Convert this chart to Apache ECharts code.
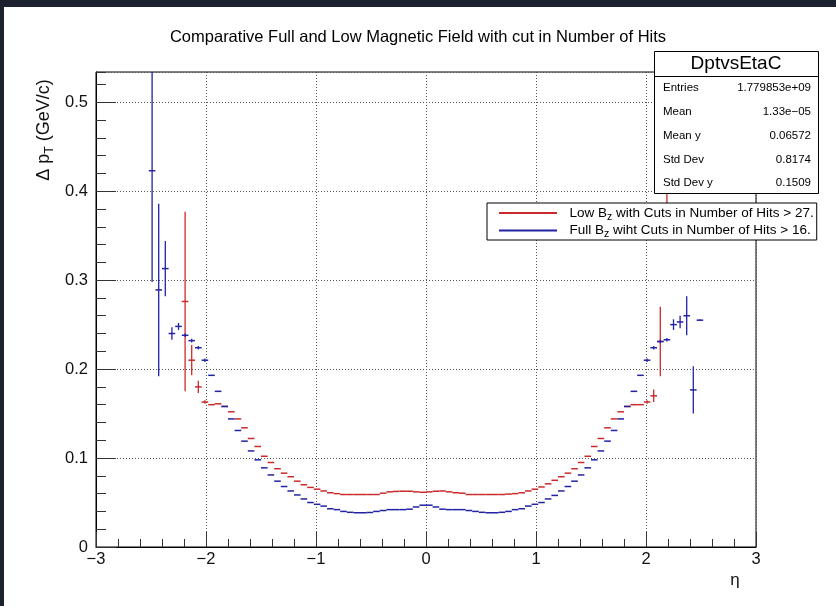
<!DOCTYPE html>
<html><head><meta charset="utf-8">
<script src="https://cdn.jsdelivr.net/npm/echarts@6/dist/echarts.min.js"></script>
<style>
html,body{margin:0;padding:0;background:#1c2130;overflow:hidden;}
#bg{position:absolute;left:4px;top:7px;width:832px;height:599px;background:#fff;}
#chart{position:absolute;left:0;top:0;width:836px;height:606px;}
</style></head><body>
<div id="bg"></div><div id="chart"></div>
<script>
const FONT = '"Liberation Sans", Arial, Helvetica, sans-serif';
const titleText = 'Comparative Full and Low Magnetic Field with cut in Number of Hits';
const binWidth = 0.06;

// Full B_z (blue)
const fullEta = [-2.49,-2.43,-2.37,-2.31,-2.25,-2.19,-2.13,-2.07,-2.01,-1.95,-1.89,-1.83,-1.77,-1.71,-1.65,-1.59,-1.53,-1.47,-1.41,-1.35,-1.29,-1.23,-1.17,-1.11,-1.05,-0.99,-0.93,-0.87,-0.81,-0.75,-0.69,-0.63,-0.57,-0.51,-0.45,-0.39,-0.33,-0.27,-0.21,-0.15,-0.09,-0.03,
 0.03,0.09,0.15,0.21,0.27,0.33,0.39,0.45,0.51,0.57,0.63,0.69,0.75,0.81,0.87,0.93,0.99,1.05,1.11,1.17,1.23,1.29,1.35,1.41,1.47,1.53,1.59,1.65,1.71,1.77,1.83,1.89,1.95,2.01,2.07,2.13,2.19,2.25,2.31,2.37,2.43,2.49];
const fullVal = [0.423,0.289,0.313,0.240,0.248,0.238,0.232,0.224,0.210,0.193,0.175,0.158,0.144,0.131,0.119,0.108,0.098,0.089,0.081,0.074,0.068,0.063,0.0585,0.054,0.050,0.048,0.046,0.043,0.042,0.040,0.039,0.0385,0.0385,0.0388,0.040,0.041,0.042,0.042,0.042,0.0425,0.045,0.047,
 0.047,0.045,0.0425,0.042,0.042,0.042,0.041,0.040,0.039,0.0385,0.0385,0.039,0.040,0.042,0.043,0.046,0.048,0.050,0.054,0.058,0.063,0.068,0.074,0.081,0.089,0.098,0.108,0.119,0.131,0.144,0.158,0.175,0.193,0.210,0.224,0.231,0.233,0.250,0.253,0.260,0.1766,0.255];
const fullErr = [0.125,0.097,0.031,0.007,0.004,0.002,0.002,0.002,0.002,0,0,0,0,0,0,0,0,0,0,0,0,0,0,0,0,0,0,0,0,0,0,0,0,0,0,0,0,0,0,0,0,0,
 0,0,0,0,0,0,0,0,0,0,0,0,0,0,0,0,0,0,0,0,0,0,0,0,0,0,0,0,0,0,0,0,0,0.002,0.002,0.002,0.002,0.006,0.007,0.022,0.0265,0.001];

// Low B_z (red)
const lowEta = [-2.19,-2.13,-2.07,-2.01,-1.95,-1.89,-1.83,-1.77,-1.71,-1.65,-1.59,-1.53,-1.47,-1.41,-1.35,-1.29,-1.23,-1.17,-1.11,-1.05,-0.99,-0.93,-0.87,-0.81,-0.75,-0.69,-0.63,-0.57,-0.51,-0.45,-0.39,-0.33,-0.27,-0.21,-0.15,-0.09,-0.03,
 0.03,0.09,0.15,0.21,0.27,0.33,0.39,0.45,0.51,0.57,0.63,0.69,0.75,0.81,0.87,0.93,0.99,1.05,1.11,1.17,1.23,1.29,1.35,1.41,1.47,1.53,1.59,1.65,1.71,1.77,1.83,1.89,1.95,2.01,2.07,2.13,2.19];
const lowVal = [0.276,0.210,0.180,0.163,0.160,0.161,0.158,0.152,0.144,0.134,0.122,0.113,0.102,0.095,0.088,0.083,0.079,0.074,0.070,0.067,0.065,0.063,0.061,0.060,0.059,0.059,0.059,0.059,0.059,0.059,0.0605,0.062,0.0625,0.0627,0.0627,0.062,0.0615,
 0.062,0.0627,0.063,0.062,0.061,0.0605,0.059,0.059,0.059,0.059,0.059,0.059,0.0595,0.060,0.061,0.063,0.065,0.0675,0.071,0.075,0.079,0.083,0.088,0.095,0.102,0.113,0.122,0.134,0.144,0.152,0.158,0.160,0.160,0.163,0.170,0.231,0.43];
const lowErr = [0.101,0.017,0.007,0.002,0,0,0,0,0,0,0,0,0,0,0,0,0,0,0,0,0,0,0,0,0,0,0,0,0,0,0,0,0,0,0,0,0,
 0,0,0,0,0,0,0,0,0,0,0,0,0,0,0,0,0,0,0,0,0,0,0,0,0,0,0,0,0,0,0,0,0,0.002,0.007,0.039,0.075];

const xTicks = [-3,-2,-1,0,1,2,3];
const yTicks = [0,0.1,0.2,0.3,0.4,0.5];
const yMax = 0.534;

const statsTitle = 'DptvsEtaC';
const statsLabels = ['Entries','Mean','Mean y','Std Dev','Std Dev y'];
const statsValues = ['1.779853e+09','1.33e\u221205','0.06572','0.8174','0.1509'];

const lowName = 'Low Bz with Cuts in Number of Hits > 27.';
const fullName = 'Full Bz wiht Cuts in Number of Hits > 16.';
const legendRich = {};
legendRich[lowName] = '{a|  Low B}{s|z}{a| with Cuts in Number of Hits > 27.}';
legendRich[fullName] = '{a|  Full B}{s|z}{a| wiht Cuts in Number of Hits > 16.}';

const RED = '#cc2a2a', BLUE = '#2222a4';

function makeSeries(name, eta, val, err, color) {
  return {
    type: 'custom', name: name, clip: true, xAxisIndex: 0, yAxisIndex: 0,
    itemStyle: { color: color },
    data: eta.map((x, i) => [x, val[i], err[i]]),
    encode: { x: 0, y: 1 },
    renderItem: function (params, api) {
      const x = api.value(0), y = api.value(1), e = api.value(2);
      const a = api.coord([x - binWidth / 2, y]), b = api.coord([x + binWidth / 2, y]);
      const ch = [{ type: 'line', shape: { x1: a[0], y1: a[1], x2: b[0], y2: b[1] }, style: { stroke: color, lineWidth: 1.5 } }];
      if (e > 0) {
        const t = api.coord([x, y + e]), u = api.coord([x, y - e]);
        ch.push({ type: 'line', shape: { x1: t[0], y1: t[1], x2: u[0], y2: u[1] }, style: { stroke: color, lineWidth: 1.3 } });
      }
      return { type: 'group', children: ch };
    }
  };
}

const statsGraphics = [
  { type: 'rect', z: 100, shape: { x: 654.5, y: 51.5, width: 164, height: 142 }, style: { fill: '#fff', stroke: '#000', lineWidth: 1 } },
  { type: 'line', z: 101, shape: { x1: 654.5, y1: 76.5, x2: 818.5, y2: 76.5 }, style: { stroke: '#000', lineWidth: 1 } },
  { type: 'text', z: 101, x: 736, y: 64, style: { text: statsTitle, font: '19px ' + FONT, align: 'center', verticalAlign: 'middle', fill: '#000' } }
];
const rowY = [88, 112, 135.5, 159.5, 183];
statsLabels.forEach((l, i) => {
  statsGraphics.push({ type: 'text', z: 101, x: 663, y: rowY[i], style: { text: l, font: '11.5px ' + FONT, align: 'left', verticalAlign: 'middle', fill: '#000' } });
  statsGraphics.push({ type: 'text', z: 101, x: 811, y: rowY[i], style: { text: statsValues[i], font: '11.5px ' + FONT, align: 'right', verticalAlign: 'middle', fill: '#000' } });
});

const chart = echarts.init(document.getElementById('chart'), null, { renderer: 'canvas' });
chart.setOption({
  backgroundColor: 'transparent',
  animation: false,
  title: { text: titleText, left: 'center', top: 24, textStyle: { fontSize: 16.5, fontWeight: 'normal', fontFamily: FONT, color: '#000' } },
  grid: { left: 96, right: 80, top: 72, bottom: 59, show: true, borderColor: '#000', borderWidth: 1, backgroundColor: 'transparent', containLabel: false },
  legend: {
    orient: 'vertical', left: 487, top: 203, padding: [3, 3, 0, 12], itemGap: 1, itemWidth: 58, itemHeight: 2,
    backgroundColor: '#fff', borderColor: '#000', borderWidth: 1, borderRadius: 0, icon: 'rect',
    selectedMode: false, z: 50, data: [lowName, fullName],
    formatter: n => legendRich[n],
    textStyle: { fontFamily: FONT, fontSize: 13.5, color: '#000',
      rich: { a: { fontSize: 13.5, fontFamily: FONT, color: '#000', lineHeight: 16 },
              s: { fontSize: 10.5, fontFamily: FONT, verticalAlign: 'bottom', lineHeight: 19, color: '#000' } } }
  },
  xAxis: [{
    type: 'value', min: -3, max: 3, interval: 1,
    axisLine: { show: true, onZero: false, lineStyle: { color: '#000', width: 1 } },
    axisTick: { show: true, inside: true, length: 15, lineStyle: { color: '#333', width: 1 } },
    minorTick: { show: true, splitNumber: 5, length: 8, lineStyle: { color: '#333', width: 1 } },
    splitLine: { show: true, lineStyle: { color: '#555', width: 1, type: [1, 2] } },
    minorSplitLine: { show: false },
    axisLabel: { margin: 4, fontSize: 16.5, fontFamily: FONT, color: '#111', formatter: v => String(v).replace('-', '\u2212') }
  }],
  yAxis: [{
    type: 'value', min: 0, max: yMax, interval: 0.1, position: 'left',
    axisLine: { show: true, onZero: false, lineStyle: { color: '#000', width: 1 } },
    axisTick: { show: true, inside: true, length: 20, lineStyle: { color: '#333', width: 1 } },
    minorTick: { show: false },
    splitLine: { show: true, lineStyle: { color: '#555', width: 1, type: [1, 2] } },
    axisLabel: { margin: 8, fontSize: 16.5, fontFamily: FONT, color: '#111', showMaxLabel: false,
      formatter: v => (Math.abs(v * 10 - Math.round(v * 10)) < 1e-6 ? (v === 0 ? '0' : v.toFixed(1)) : '') }
  }, {
    type: 'value', min: 0, max: yMax, interval: 0.02, position: 'left', offset: 0,
    axisLine: { show: false, onZero: false },
    axisTick: { show: true, inside: true, length: 10, lineStyle: { color: '#333', width: 1 } },
    splitLine: { show: false },
    axisLabel: { show: false }
  }],
  graphic: [
    { type: 'text', z: 10, x: 44, y: 130, rotation: Math.PI / 2,
      style: { text: '{a|\u0394 p}{s|T}{a| (GeV/c)}', align: 'center', verticalAlign: 'middle', fill: '#111',
        rich: { a: { fontSize: 18, fontFamily: FONT, lineHeight: 24, fill: '#111', color: '#111' },
                s: { fontSize: 12.5, fontFamily: FONT, lineHeight: 14, verticalAlign: 'bottom', fill: '#111', color: '#111' } } } },
    { type: 'text', z: 10, x: 735, y: 580, style: { text: '\u03b7', font: '17px ' + FONT, align: 'center', verticalAlign: 'middle', fill: '#111' } }
  ].concat(statsGraphics),
  series: [
    makeSeries(lowName, lowEta, lowVal, lowErr, RED),
    makeSeries(fullName, fullEta, fullVal, fullErr, BLUE)
  ]
});
</script>
</body></html>
